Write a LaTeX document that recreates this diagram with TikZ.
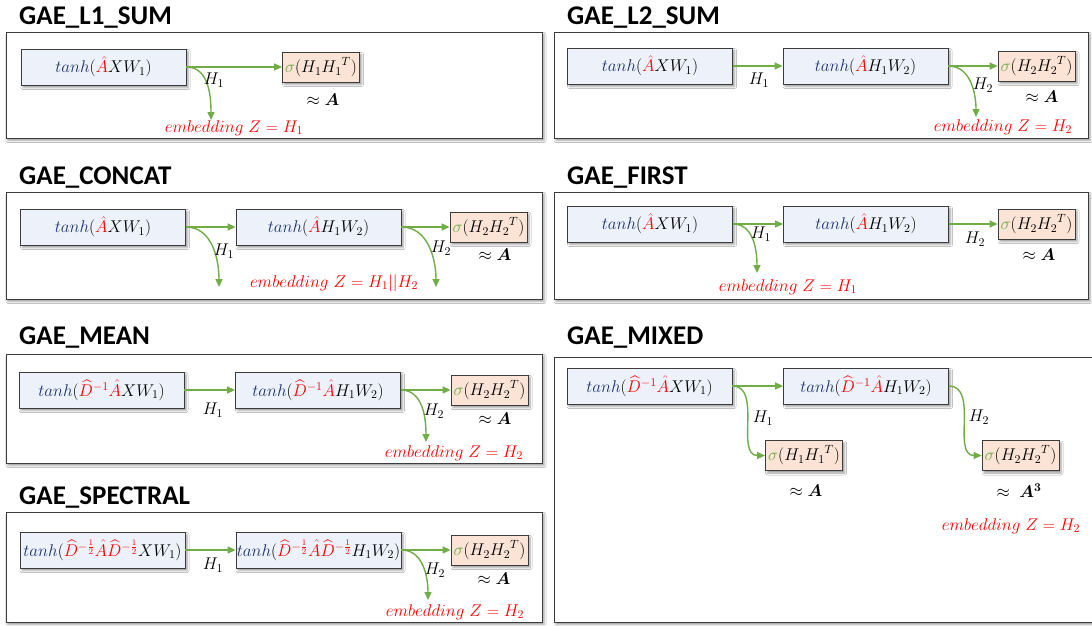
\RequirePackage{fix-cm}
\documentclass[tikz,border=0pt]{standalone}
\usepackage{amsmath,bm}
\usepackage{fontspec}
\newfontfamily\titlefont{Carlito}
\usepackage{xcolor}
\definecolor{gaeGreen}{RGB}{112,173,71}
\definecolor{gaeBlue}{RGB}{236,241,250}
\definecolor{gaeOrange}{RGB}{251,228,213}
\definecolor{gaeInk}{RGB}{28,50,110}
\definecolor{gaeFrame}{RGB}{60,60,60}
\definecolor{gaeRed}{RGB}{255,0,0}
\usepackage{tikz}
\usetikzlibrary{positioning,arrows.meta,shadows.blur}

% pieces of the layer formulas
\newcommand\gTanh{{\color{gaeInk}tanh}}
\newcommand\gAhat{{\color{gaeRed}\hat{A}}}
\newcommand\gDinv{{\color{gaeRed}\widehat{D}^{-1}}}
\newcommand\gDhalf{{\color{gaeRed}\widehat{D}^{-\frac{1}{2}}}}
\newcommand\gSig{{\color{gaeGreen}\sigma}}
\newcommand\eqsize{\fontsize{17}{20}\selectfont}

\begin{document}
\begin{tikzpicture}[x=1pt,y=1pt,
  sh/.style={blur shadow={shadow xshift=2pt,shadow yshift=-2.5pt,shadow blur radius=2pt,shadow opacity=40}},
  panel/.style={draw=gaeFrame,line width=0.8pt,fill=white,sh},
  ttl/.style={anchor=west,inner sep=0pt,font=\titlefont\bfseries\fontsize{27}{31}\selectfont},
  lay/.style={draw=gaeFrame,fill=gaeBlue,line width=0.8pt,minimum width=165pt,minimum height=36pt,inner sep=0.5pt,font=\eqsize,sh},
  dec/.style={draw=gaeFrame,fill=gaeOrange,line width=0.8pt,minimum width=77pt,minimum height=30pt,inner sep=0.5pt,font=\eqsize,sh},
  txt/.style={font=\eqsize,inner sep=1pt},
  emb/.style={txt,text=gaeRed},
  a/.style={-{Triangle[length=8pt,width=7pt]},gaeGreen,line width=1.4pt}]
  \fill[white] (0,0) rectangle (1092,-625);
  \useasboundingbox (0,0) rectangle (1092,-625);

  % GAE_L1_SUM
  \node[ttl] (t1) at (19,-18) {GAE\_L1\_SUM};
  \draw[panel] (6,-32) rectangle (542,-138);
  \node[lay] (s1a) at (103.5,-67) {$\gTanh(\gAhat XW_1)$};
  \node[dec] (s1d) at (321,-67) {$\gSig(H_1{H_1}^T)$};
  \coordinate (s1z) at (211,-120);
  \draw[a] (s1a) -- (s1d);
  \draw[a] (s1a.east) to[out=0,in=90] (s1z);
  \node[txt] (s1h) at (214,-80) {$H_1$};
  \node[txt] (s1r) at (323,-100) {$\approx \bm{A}$};
  \node[emb] (s1e) at (234,-128) {$embedding\ Z = H_1$};

  % GAE_L2_SUM
  \node[ttl] (t2) at (567,-18) {GAE\_L2\_SUM};
  \draw[panel] (554,-32) rectangle (1088,-138);
  \node[lay] (s2a) at (650,-66) {$\gTanh(\gAhat XW_1)$};
  \node[lay] (s2b) at (865.5,-66) {$\gTanh(\gAhat H_1W_2)$};
  \node[dec] (s2d) at (1036.5,-66) {$\gSig(H_2{H_2}^T)$};
  \coordinate (s2z) at (976,-117);
  \draw[a] (s2a) -- (s2b);
  \draw[a] (s2b) -- (s2d);
  \draw[a] (s2b.east) to[out=0,in=90] (s2z);
  \node[txt] (s2h1) at (759,-80) {$H_1$};
  \node[txt] (s2h2) at (983,-85) {$H_2$};
  \node[txt] (s2r) at (1042,-97) {$\approx \bm{A}$};
  \node[emb] (s2e) at (1003,-127) {$embedding\ Z = H_2$};

  % GAE_CONCAT
  \node[ttl] (t3) at (19,-178) {GAE\_CONCAT};
  \draw[panel] (6,-192) rectangle (542,-299);
  \node[lay] (s3a) at (103,-227) {$\gTanh(\gAhat XW_1)$};
  \node[lay] (s3b) at (318.5,-227) {$\gTanh(\gAhat H_1W_2)$};
  \node[dec] (s3d) at (488.5,-227) {$\gSig(H_2{H_2}^T)$};
  \coordinate (s3z1) at (219,-287);
  \coordinate (s3z2) at (436,-287);
  \draw[a] (s3a) -- (s3b);
  \draw[a] (s3b) -- (s3d);
  \draw[a] (s3a.east) to[out=0,in=90] (s3z1);
  \draw[a] (s3b.east) to[out=0,in=90] (s3z2);
  \node[txt] (s3h1) at (224,-251) {$H_1$};
  \node[txt] (s3h2) at (441,-248) {$H_2$};
  \node[txt] (s3r) at (495,-255) {$\approx \bm{A}$};
  \node[emb] (s3e) at (334,-283) {$embedding\ Z = H_1||H_2$};

  % GAE_FIRST
  \node[ttl] (t4) at (567,-178) {GAE\_FIRST};
  \draw[panel] (554,-192) rectangle (1088,-299);
  \node[lay] (s4a) at (650,-224) {$\gTanh(\gAhat XW_1)$};
  \node[lay] (s4b) at (866,-224) {$\gTanh(\gAhat H_1W_2)$};
  \node[dec] (s4d) at (1036.5,-224) {$\gSig(H_2{H_2}^T)$};
  \coordinate (s4z) at (757,-273);
  \draw[a] (s4a) -- (s4b);
  \draw[a] (s4b) -- (s4d);
  \draw[a] (s4a.east) to[out=0,in=90] (s4z);
  \node[txt] (s4h1) at (761,-234) {$H_1$};
  \node[txt] (s4h2) at (975,-239) {$H_2$};
  \node[txt] (s4r) at (1039,-255) {$\approx \bm{A}$};
  \node[emb] (s4e) at (788,-287) {$embedding\ Z = H_1$};

  % GAE_MEAN
  \node[ttl] (t5) at (19,-338) {GAE\_MEAN};
  \draw[panel] (6,-354) rectangle (542,-463);
  \node[lay] (s5a) at (101.5,-390) {$\gTanh(\gDinv\gAhat XW_1)$};
  \node[lay] (s5b) at (318,-390) {$\gTanh(\gDinv\gAhat H_1W_2)$};
  \node[dec] (s5d) at (489.5,-390) {$\gSig(H_2{H_2}^T)$};
  \coordinate (s5z) at (426,-442);
  \draw[a] (s5a) -- (s5b);
  \draw[a] (s5b) -- (s5d);
  \draw[a] (s5b.east) to[out=0,in=90] (s5z);
  \node[txt] (s5h1) at (213,-410) {$H_1$};
  \node[txt] (s5h2) at (434,-411) {$H_2$};
  \node[txt] (s5r) at (495,-419) {$\approx \bm{A}$};
  \node[emb] (s5e) at (454,-453) {$embedding\ Z = H_2$};

  % GAE_SPECTRAL
  \node[ttl] (t6) at (19,-498) {GAE\_SPECTRAL};
  \draw[panel] (6,-512) rectangle (542,-622);
  \node[lay] (s6a) at (102.5,-550) {$\gTanh(\gDhalf\gAhat\gDhalf XW_1)$};
  \node[lay] (s6b) at (318.5,-550) {$\gTanh(\gDhalf\gAhat\gDhalf H_1W_2)$};
  \node[dec] (s6d) at (489.5,-550) {$\gSig(H_2{H_2}^T)$};
  \coordinate (s6z) at (428,-600);
  \draw[a] (s6a) -- (s6b);
  \draw[a] (s6b) -- (s6d);
  \draw[a] (s6b.east) to[out=0,in=90] (s6z);
  \node[txt] (s6h1) at (213,-565) {$H_1$};
  \node[txt] (s6h2) at (435,-570) {$H_2$};
  \node[txt] (s6r) at (494,-579) {$\approx \bm{A}$};
  \node[emb] (s6e) at (455,-612) {$embedding\ Z = H_2$};

  % GAE_MIXED
  \node[ttl] (t7) at (567,-338) {GAE\_MIXED};
  \draw[panel] (554,-357) rectangle (1096,-622);
  \node[lay] (s7a) at (649.5,-386) {$\gTanh(\gDinv\gAhat XW_1)$};
  \node[lay] (s7b) at (866,-386) {$\gTanh(\gDinv\gAhat H_1W_2)$};
  \node[dec] (s7c) at (804,-455.5) {$\gSig(H_1{H_1}^T)$};
  \node[dec] (s7d) at (1020.5,-455.5) {$\gSig(H_2{H_2}^T)$};
  \draw[a] (s7a) -- (s7b);
  \draw[a] (s7a.east) to[out=0,in=180] (s7c.west);
  \draw[a] (s7b.east) to[out=0,in=180] (s7d.west);
  \node[txt] (s7h1) at (763,-418) {$H_1$};
  \node[txt] (s7h2) at (979,-417) {$H_2$};
  \node[txt] (s7r1) at (806,-491) {$\approx \bm{A}$};
  \node[txt] (s7r2) at (1019,-491) {$\approx\;\bm{A^3}$};
  \node[emb] (s7e) at (1011,-526) {$embedding\ Z = H_2$};
\end{tikzpicture}
\end{document}
